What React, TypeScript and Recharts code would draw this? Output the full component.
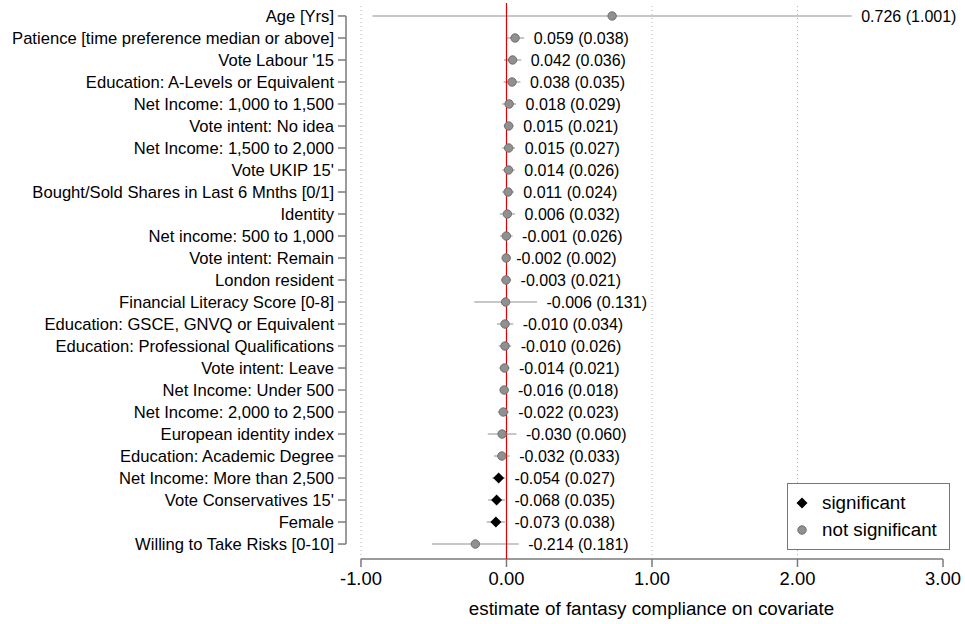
import {
  ScatterChart,
  Scatter,
  XAxis,
  YAxis,
  ErrorBar,
  LabelList,
  ReferenceLine,
} from "recharts";

const categories = [
  "Age [Yrs]",
  "Patience [time preference median or above]",
  "Vote Labour '15",
  "Education: A-Levels or Equivalent",
  "Net Income: 1,000 to 1,500",
  "Vote intent: No idea",
  "Net Income: 1,500 to 2,000",
  "Vote UKIP 15'",
  "Bought/Sold Shares in Last 6 Mnths [0/1]",
  "Identity",
  "Net income: 500 to 1,000",
  "Vote intent: Remain",
  "London resident",
  "Financial Literacy Score [0-8]",
  "Education: GSCE, GNVQ or Equivalent",
  "Education: Professional Qualifications",
  "Vote intent: Leave",
  "Net Income: Under 500",
  "Net Income: 2,000 to 2,500",
  "European identity index",
  "Education: Academic Degree",
  "Net Income: More than 2,500",
  "Vote Conservatives 15'",
  "Female",
  "Willing to Take Risks [0-10]",
];

const estimates = [
  0.726, 0.059, 0.042, 0.038, 0.018, 0.015, 0.015, 0.014, 0.011, 0.006,
  -0.001, -0.002, -0.003, -0.006, -0.01, -0.01, -0.014, -0.016, -0.022,
  -0.03, -0.032, -0.054, -0.068, -0.073, -0.214,
];

const stdErrors = [
  1.001, 0.038, 0.036, 0.035, 0.029, 0.021, 0.027, 0.026, 0.024, 0.032,
  0.026, 0.002, 0.021, 0.131, 0.034, 0.026, 0.021, 0.018, 0.023, 0.06,
  0.033, 0.027, 0.035, 0.038, 0.181,
];

const significant = [
  false, false, false, false, false, false, false, false, false, false,
  false, false, false, false, false, false, false, false, false, false,
  false, true, true, true, false,
];

const xTicks = [-1, 0, 1, 2, 3];

// 90% interval
const Z = 1.645;

const rows = categories.map((name, i) => ({
  name,
  y: i,
  x: estimates[i],
  ci: Z * stdErrors[i],
  hi: estimates[i] + Z * stdErrors[i],
  label: `${estimates[i].toFixed(3)} (${stdErrors[i].toFixed(3)})`,
  sig: significant[i],
}));

const sigRows = rows.filter((r) => r.sig);
const nsRows = rows.filter((r) => !r.sig);
const labelRows = rows.map((r) => ({ x: r.hi, y: r.y, label: r.label }));

const X_MIN = -1.103;
const X_MAX = 3.055;
const Y_MIN = -0.59;
const Y_MAX = 24.68;

const AXIS = "#7a7a7a";

const Diamond = (props: any) => {
  const { cx, cy } = props;
  const s = 5.5;
  return (
    <path
      d={`M${cx},${cy - s}L${cx + s},${cy}L${cx},${cy + s}L${cx - s},${cy}Z`}
      fill="#000"
    />
  );
};

const Dot = (props: any) => {
  const { cx, cy } = props;
  return <circle cx={cx} cy={cy} r={4.2} fill="#909090" stroke="#6e6e6e" strokeWidth={1} />;
};

const Empty = () => <g />;

export default function App() {
  return (
    <div
      style={{
        position: "absolute",
        left: 0,
        top: 0,
        width: 965,
        height: 624,
        background: "#fff",
        fontFamily: "Arial, 'Liberation Sans', sans-serif",
      }}
    >
      <ScatterChart
        width={965}
        height={624}
        margin={{ top: 3, right: 14, bottom: 0, left: 0 }}
      >
        <XAxis
          type="number"
          dataKey="x"
          domain={[X_MIN, X_MAX]}
          allowDataOverflow
          ticks={xTicks}
          interval={0}
          tickFormatter={(v: number) => v.toFixed(2)}
          axisLine={false}
          tickLine={{ stroke: AXIS, strokeWidth: 1.5 }}
          tickSize={8}
          tickMargin={5}
          height={65}
          tick={{ fontSize: 18.4, fill: "#000" }}
          label={{
            value: "estimate of fantasy compliance on covariate",
            position: "insideBottom",
            offset: 9,
            dx: 3,
            fontSize: 18.8,
            fill: "#000",
          }}
        />
        <YAxis
          type="number"
          dataKey="y"
          domain={[Y_MIN, Y_MAX]}
          reversed
          allowDataOverflow
          ticks={rows.map((r) => r.y)}
          interval={0}
          tickFormatter={(v: number) => categories[v] ?? ""}
          width={346}
          axisLine={false}
          tickLine={{ stroke: AXIS, strokeWidth: 1.5 }}
          tickSize={8}
          tickMargin={4}
          tick={{ fontSize: 16.6, fill: "#000" }}
        />
        {[-1, 1, 2].map((g) => (
          <ReferenceLine
            key={g}
            x={g}
            stroke="#b8b8b8"
            strokeDasharray="1 3"
            ifOverflow="visible"
          />
        ))}
        <ReferenceLine
          segment={[
            { x: X_MIN, y: 0 },
            { x: X_MIN, y: 24 },
          ]}
          stroke={AXIS}
          strokeWidth={1.5}
          ifOverflow="visible"
        />
        <ReferenceLine
          segment={[
            { x: -1, y: Y_MAX },
            { x: 3, y: Y_MAX },
          ]}
          stroke={AXIS}
          strokeWidth={1.5}
          ifOverflow="visible"
        />
        <Scatter data={nsRows} shape={Dot} isAnimationActive={false}>
          <ErrorBar dataKey="ci" direction="x" width={0} stroke="#b4b4b4" strokeWidth={1.5} />
        </Scatter>
        <Scatter data={sigRows} shape={Diamond} isAnimationActive={false}>
          <ErrorBar dataKey="ci" direction="x" width={0} stroke="#b4b4b4" strokeWidth={1.5} />
        </Scatter>
        <ReferenceLine x={0} stroke="#e00000" strokeWidth={1.2} ifOverflow="visible" />
        <Scatter data={labelRows} shape={Empty} fill="#000" isAnimationActive={false}>
          <LabelList dataKey="label" position="right" offset={5} fill="#000" fontSize={16} />
        </Scatter>
      </ScatterChart>
      <div
        style={{
          position: "absolute",
          left: 787,
          top: 483,
          width: 161,
          height: 65,
          border: "1px solid #777",
          background: "#fff",
          fontSize: 18.8,
          color: "#000",
        }}
      >
        <div style={{ position: "absolute", left: 6, top: 8, display: "flex", alignItems: "center" }}>
          <svg width={16} height={16}>
            <path d="M8,2.5L13.5,8L8,13.5L2.5,8Z" fill="#000" />
          </svg>
          <span style={{ marginLeft: 12 }}>significant</span>
        </div>
        <div style={{ position: "absolute", left: 6, top: 35, display: "flex", alignItems: "center" }}>
          <svg width={16} height={16}>
            <circle cx={8} cy={8} r={4.2} fill="#909090" stroke="#6e6e6e" />
          </svg>
          <span style={{ marginLeft: 12 }}>not significant</span>
        </div>
      </div>
    </div>
  );
}
